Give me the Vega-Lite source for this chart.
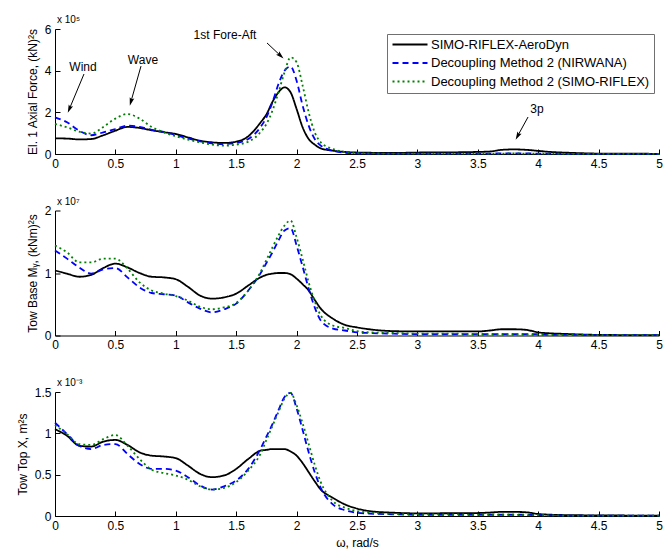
{
  "$schema": "https://vega.github.io/schema/vega-lite/v6.json",
  "background": "white",
  "padding": {"left": 16, "top": 14, "right": 2, "bottom": 2},
  "config": {
    "font": "Liberation Sans",
    "view": {"stroke": null},
    "axis": {"grid": false, "domainColor": "black", "tickColor": "black", "labelColor": "black", "labelFontSize": 12, "titleFontSize": 12, "titleFontWeight": "normal", "titleColor": "black", "tickSize": -5, "labelPadding": 9, "titlePadding": 5, "labelFlush": false, "labelOverlap": false, "format": "~g"},
    "legend": {"title": null, "orient": "top-right", "offset": 5, "symbolType": "M-1,0H6", "symbolSize": 100, "symbolStrokeWidth": 2, "labelFontSize": 13, "labelColor": "black", "labelLimit": 400, "labelOffset": 27, "strokeColor": "#707070", "fillColor": "white", "padding": 4, "rowPadding": 4.5}
  },
  "datasets": {
    "top": [
      {"w":0,"a":0.75,"n":1.76,"r":1.44},
      {"w":0.1,"a":0.74,"n":1.52,"r":1.28},
      {"w":0.2,"a":0.7,"n":1.12,"r":1.07},
      {"w":0.3,"a":0.72,"n":0.9,"r":0.98},
      {"w":0.4,"a":0.9,"n":1.04,"r":1.3},
      {"w":0.5,"a":1.12,"n":1.2,"r":1.7},
      {"w":0.6,"a":1.3,"n":1.36,"r":1.92},
      {"w":0.7,"a":1.25,"n":1.3,"r":1.7},
      {"w":0.8,"a":1.14,"n":1.16,"r":1.3},
      {"w":0.9,"a":1.05,"n":1.06,"r":1.04},
      {"w":1.0,"a":0.96,"n":0.91,"r":0.85},
      {"w":1.1,"a":0.8,"n":0.75,"r":0.69},
      {"w":1.2,"a":0.64,"n":0.61,"r":0.56},
      {"w":1.3,"a":0.56,"n":0.51,"r":0.45},
      {"w":1.4,"a":0.53,"n":0.48,"r":0.4},
      {"w":1.5,"a":0.59,"n":0.53,"r":0.45},
      {"w":1.6,"a":0.85,"n":0.72,"r":0.59},
      {"w":1.7,"a":1.5,"n":1.28,"r":1.04},
      {"w":1.75,"a":1.9,"n":1.76,"r":1.44},
      {"w":1.8,"a":2.5,"n":2.48,"r":2.08},
      {"w":1.85,"a":2.96,"n":3.36,"r":2.96},
      {"w":1.9,"a":3.2,"n":4.0,"r":3.92},
      {"w":1.95,"a":2.96,"n":4.2,"r":4.64},
      {"w":2.0,"a":2.16,"n":3.52,"r":4.4},
      {"w":2.05,"a":1.28,"n":2.32,"r":3.28},
      {"w":2.1,"a":0.72,"n":1.36,"r":2.0},
      {"w":2.15,"a":0.45,"n":0.72,"r":1.04},
      {"w":2.2,"a":0.27,"n":0.4,"r":0.56},
      {"w":2.3,"a":0.16,"n":0.16,"r":0.24},
      {"w":2.4,"a":0.1,"n":0.06,"r":0.1},
      {"w":2.5,"a":0.07,"n":0.03,"r":0.04},
      {"w":2.6,"a":0.06,"n":0.02,"r":0.03},
      {"w":2.8,"a":0.05,"n":0.02,"r":0.02},
      {"w":3.0,"a":0.07,"n":0.02,"r":0.02},
      {"w":3.3,"a":0.08,"n":0.02,"r":0.02},
      {"w":3.5,"a":0.1,"n":0.02,"r":0.02},
      {"w":3.6,"a":0.12,"n":0.02,"r":0.02},
      {"w":3.7,"a":0.2,"n":0.03,"r":0.02},
      {"w":3.8,"a":0.22,"n":0.03,"r":0.03},
      {"w":3.9,"a":0.2,"n":0.03,"r":0.02},
      {"w":4.0,"a":0.15,"n":0.02,"r":0.02},
      {"w":4.1,"a":0.1,"n":0.02,"r":0.02},
      {"w":4.2,"a":0.07,"n":0.01,"r":0.01},
      {"w":4.3,"a":0.05,"n":0.01,"r":0.01},
      {"w":4.5,"a":0.02,"n":0.01,"r":0.01},
      {"w":5.0,"a":0.01,"n":0.01,"r":0.01}
    ],
    "mid": [
      {"w":0,"a":1.04,"n":1.36,"r":1.44},
      {"w":0.1,"a":0.99,"n":1.23,"r":1.33},
      {"w":0.2,"a":0.94,"n":1.09,"r":1.17},
      {"w":0.3,"a":0.97,"n":0.99,"r":1.17},
      {"w":0.4,"a":1.08,"n":1.06,"r":1.23},
      {"w":0.5,"a":1.15,"n":1.08,"r":1.23},
      {"w":0.6,"a":1.09,"n":0.93,"r":1.07},
      {"w":0.7,"a":1.0,"n":0.77,"r":0.85},
      {"w":0.8,"a":0.94,"n":0.68,"r":0.72},
      {"w":0.9,"a":0.93,"n":0.66,"r":0.67},
      {"w":1.0,"a":0.9,"n":0.64,"r":0.63},
      {"w":1.1,"a":0.78,"n":0.53,"r":0.56},
      {"w":1.2,"a":0.64,"n":0.43,"r":0.46},
      {"w":1.3,"a":0.59,"n":0.37,"r":0.42},
      {"w":1.4,"a":0.61,"n":0.42,"r":0.45},
      {"w":1.5,"a":0.67,"n":0.51,"r":0.52},
      {"w":1.6,"a":0.8,"n":0.72,"r":0.72},
      {"w":1.7,"a":0.93,"n":0.99,"r":1.01},
      {"w":1.75,"a":0.97,"n":1.16,"r":1.21},
      {"w":1.8,"a":0.99,"n":1.33,"r":1.41},
      {"w":1.85,"a":1.0,"n":1.52,"r":1.6},
      {"w":1.9,"a":1.0,"n":1.68,"r":1.76},
      {"w":1.95,"a":0.98,"n":1.72,"r":1.84},
      {"w":2.0,"a":0.91,"n":1.44,"r":1.57},
      {"w":2.05,"a":0.82,"n":1.1,"r":1.22},
      {"w":2.1,"a":0.72,"n":0.75,"r":0.85},
      {"w":2.15,"a":0.57,"n":0.45,"r":0.55},
      {"w":2.2,"a":0.43,"n":0.24,"r":0.32},
      {"w":2.3,"a":0.27,"n":0.11,"r":0.16},
      {"w":2.4,"a":0.17,"n":0.08,"r":0.12},
      {"w":2.5,"a":0.13,"n":0.05,"r":0.07},
      {"w":2.6,"a":0.1,"n":0.04,"r":0.05},
      {"w":2.8,"a":0.07,"n":0.03,"r":0.04},
      {"w":3.0,"a":0.065,"n":0.02,"r":0.03},
      {"w":3.3,"a":0.065,"n":0.02,"r":0.03},
      {"w":3.5,"a":0.065,"n":0.02,"r":0.02},
      {"w":3.6,"a":0.08,"n":0.02,"r":0.02},
      {"w":3.7,"a":0.1,"n":0.02,"r":0.02},
      {"w":3.8,"a":0.1,"n":0.02,"r":0.02},
      {"w":3.9,"a":0.09,"n":0.02,"r":0.02},
      {"w":4.0,"a":0.05,"n":0.02,"r":0.01},
      {"w":4.1,"a":0.035,"n":0.01,"r":0.01},
      {"w":4.2,"a":0.027,"n":0.01,"r":0.01},
      {"w":4.3,"a":0.02,"n":0.01,"r":0.01},
      {"w":4.5,"a":0.01,"n":0.005,"r":0.005},
      {"w":5.0,"a":0.005,"n":0.005,"r":0.005}
    ],
    "bot": [
      {"w":0,"a":1.05,"n":1.13,"r":1.1},
      {"w":0.1,"a":0.97,"n":0.99,"r":0.99},
      {"w":0.2,"a":0.85,"n":0.85,"r":0.87},
      {"w":0.3,"a":0.84,"n":0.81,"r":0.86},
      {"w":0.4,"a":0.9,"n":0.86,"r":0.93},
      {"w":0.5,"a":0.92,"n":0.87,"r":0.98},
      {"w":0.6,"a":0.86,"n":0.75,"r":0.85},
      {"w":0.7,"a":0.77,"n":0.63,"r":0.69},
      {"w":0.8,"a":0.73,"n":0.57,"r":0.56},
      {"w":0.9,"a":0.72,"n":0.57,"r":0.52},
      {"w":1.0,"a":0.7,"n":0.55,"r":0.49},
      {"w":1.1,"a":0.61,"n":0.47,"r":0.44},
      {"w":1.2,"a":0.51,"n":0.37,"r":0.36},
      {"w":1.3,"a":0.47,"n":0.32,"r":0.32},
      {"w":1.4,"a":0.49,"n":0.36,"r":0.34},
      {"w":1.5,"a":0.57,"n":0.43,"r":0.41},
      {"w":1.6,"a":0.69,"n":0.57,"r":0.55},
      {"w":1.7,"a":0.79,"n":0.81,"r":0.75},
      {"w":1.75,"a":0.8,"n":0.96,"r":0.92},
      {"w":1.8,"a":0.81,"n":1.11,"r":1.09},
      {"w":1.85,"a":0.81,"n":1.28,"r":1.26},
      {"w":1.9,"a":0.81,"n":1.44,"r":1.42},
      {"w":1.95,"a":0.78,"n":1.49,"r":1.49},
      {"w":2.0,"a":0.73,"n":1.3,"r":1.34},
      {"w":2.05,"a":0.64,"n":1.04,"r":1.12},
      {"w":2.1,"a":0.53,"n":0.77,"r":0.87},
      {"w":2.15,"a":0.42,"n":0.53,"r":0.62},
      {"w":2.2,"a":0.32,"n":0.34,"r":0.41},
      {"w":2.3,"a":0.22,"n":0.14,"r":0.18},
      {"w":2.4,"a":0.14,"n":0.07,"r":0.1},
      {"w":2.5,"a":0.09,"n":0.04,"r":0.06},
      {"w":2.6,"a":0.06,"n":0.03,"r":0.04},
      {"w":2.8,"a":0.04,"n":0.02,"r":0.025},
      {"w":3.0,"a":0.032,"n":0.015,"r":0.02},
      {"w":3.3,"a":0.034,"n":0.015,"r":0.02},
      {"w":3.5,"a":0.036,"n":0.015,"r":0.015},
      {"w":3.6,"a":0.042,"n":0.015,"r":0.015},
      {"w":3.7,"a":0.05,"n":0.015,"r":0.015},
      {"w":3.8,"a":0.05,"n":0.015,"r":0.015},
      {"w":3.9,"a":0.045,"n":0.015,"r":0.012},
      {"w":4.0,"a":0.024,"n":0.01,"r":0.01},
      {"w":4.1,"a":0.016,"n":0.008,"r":0.008},
      {"w":4.2,"a":0.012,"n":0.006,"r":0.006},
      {"w":4.3,"a":0.01,"n":0.005,"r":0.005},
      {"w":4.5,"a":0.007,"n":0.005,"r":0.005},
      {"w":5.0,"a":0.005,"n":0.005,"r":0.005}
    ]
  },
  "bounds": "flush",
  "spacing": 56.5,
  "resolve": {"scale": {"color": "independent", "strokeDash": "independent"}, "legend": {"color": "independent", "strokeDash": "independent"}},
  "vconcat": [
    {
      "width": 604, "height": 125,
      "layer": [
        {
          "data": {"name": "top"},
          "transform": [{"fold": ["a", "n", "r"], "as": ["s", "v"]}],
          "mark": {"type": "line", "interpolate": "monotone", "strokeWidth": 1.8},
          "encoding": {
            "x": {"field": "w", "type": "quantitative", "scale": {"domain": [0, 5], "nice": false}, "axis": {"values": [0, 0.5, 1, 1.5, 2, 2.5, 3, 3.5, 4, 4.5, 5], "title": null}},
            "y": {"field": "v", "type": "quantitative", "scale": {"domain": [0, 6], "nice": false}, "axis": {"values": [0, 2, 4, 6], "title": "El. 1 Axial Force, (kN)²s"}},
            "color": {"field": "s", "type": "nominal", "scale": {"domain": ["a", "n", "r"], "range": ["#000000", "#0000ff", "#008000"]}, "legend": {"labelExpr": "datum.label == 'a' ? 'SIMO-RIFLEX-AeroDyn' : datum.label == 'n' ? 'Decoupling Method 2 (NIRWANA)' : 'Decoupling Method 2 (SIMO-RIFLEX)'"}},
            "strokeDash": {"field": "s", "type": "nominal", "scale": {"domain": ["a", "n", "r"], "range": [[1, 0], [6, 4], [2, 3]]}, "legend": {"labelExpr": "datum.label == 'a' ? 'SIMO-RIFLEX-AeroDyn' : datum.label == 'n' ? 'Decoupling Method 2 (NIRWANA)' : 'Decoupling Method 2 (SIMO-RIFLEX)'"}}
          }
        },
        {
          "data": {"values": [{}]},
          "mark": {"type": "text", "align": "left", "baseline": "alphabetic", "dx": 2, "fontSize": 10, "color": "black"},
          "encoding": {"x": {"datum": 0}, "y": {"datum": 6.288}, "text": {"value": "x 10⁵"}}
        },
        {
          "data": {"values": [{"t": "Wind", "x": 0.232, "y": 4.18}, {"t": "Wave", "x": 0.728, "y": 4.51}, {"t": "1st Fore-Aft", "x": 1.407, "y": 5.71}, {"t": "3p", "x": 3.99, "y": 2.16}]},
          "mark": {"type": "text", "align": "center", "baseline": "middle", "fontSize": 12, "color": "black"},
          "encoding": {"x": {"field": "x", "type": "quantitative"}, "y": {"field": "y", "type": "quantitative"}, "text": {"field": "t"}}
        },
        {
          "data": {"values": [{"x": 0.24, "y": 3.84, "x2": 0.121, "y2": 2.19}, {"x": 0.712, "y": 4.22, "x2": 0.63, "y2": 2.54}, {"x": 1.755, "y": 5.33, "x2": 1.863, "y2": 4.74}, {"x": 3.916, "y": 1.776, "x2": 3.832, "y2": 0.888}]},
          "mark": {"type": "rule", "color": "black", "strokeWidth": 1},
          "encoding": {"x": {"field": "x", "type": "quantitative"}, "y": {"field": "y", "type": "quantitative"}, "x2": {"field": "x2"}, "y2": {"field": "y2"}}
        },
        {
          "data": {"values": [{}]},
          "mark": {"type": "point", "shape": "M0,-1L0.5,0.7L0,0.4L-0.5,0.7Z", "filled": true, "opacity": 1, "size": 90, "color": "black", "angle": 202.8},
          "encoding": {"x": {"datum": 0.121}, "y": {"datum": 2.19}}
        },
        {
          "data": {"values": [{}]},
          "mark": {"type": "point", "shape": "M0,-1L0.5,0.7L0,0.4L-0.5,0.7Z", "filled": true, "opacity": 1, "size": 90, "color": "black", "angle": 195.7},
          "encoding": {"x": {"datum": 0.63}, "y": {"datum": 2.54}}
        },
        {
          "data": {"values": [{}]},
          "mark": {"type": "point", "shape": "M0,-1L0.5,0.7L0,0.4L-0.5,0.7Z", "filled": true, "opacity": 1, "size": 90, "color": "black", "angle": 133.2},
          "encoding": {"x": {"datum": 1.863}, "y": {"datum": 4.74}}
        },
        {
          "data": {"values": [{}]},
          "mark": {"type": "point", "shape": "M0,-1L0.5,0.7L0,0.4L-0.5,0.7Z", "filled": true, "opacity": 1, "size": 90, "color": "black", "angle": 208.6},
          "encoding": {"x": {"datum": 3.832}, "y": {"datum": 0.888}}
        }
      ]
    },
    {
      "width": 604, "height": 125,
      "layer": [
        {
          "data": {"name": "mid"},
          "transform": [{"fold": ["a", "n", "r"], "as": ["s", "v"]}],
          "mark": {"type": "line", "interpolate": "monotone", "strokeWidth": 1.8},
          "encoding": {
            "x": {"field": "w", "type": "quantitative", "scale": {"domain": [0, 5], "nice": false}, "axis": {"values": [0, 0.5, 1, 1.5, 2, 2.5, 3, 3.5, 4, 4.5, 5], "title": null}},
            "y": {"field": "v", "type": "quantitative", "scale": {"domain": [0, 2], "nice": false}, "axis": {"values": [0, 0.5, 1, 1.5, 2], "title": "Tow Base Mᵧ, (kNm)²s"}},
            "color": {"field": "s", "type": "nominal", "scale": {"domain": ["a", "n", "r"], "range": ["#000000", "#0000ff", "#008000"]}, "legend": null},
            "strokeDash": {"field": "s", "type": "nominal", "scale": {"domain": ["a", "n", "r"], "range": [[1, 0], [6, 4], [2, 3]]}, "legend": null}
          }
        },
        {
          "data": {"values": [{}]},
          "mark": {"type": "text", "align": "left", "baseline": "alphabetic", "dx": 2, "fontSize": 10, "color": "black"},
          "encoding": {"x": {"datum": 0}, "y": {"datum": 2.096}, "text": {"value": "x 10⁷"}}
        }
      ]
    },
    {
      "width": 604, "height": 124,
      "layer": [
        {
          "data": {"name": "bot"},
          "transform": [{"fold": ["a", "n", "r"], "as": ["s", "v"]}],
          "mark": {"type": "line", "interpolate": "monotone", "strokeWidth": 1.8},
          "encoding": {
            "x": {"field": "w", "type": "quantitative", "scale": {"domain": [0, 5], "nice": false}, "axis": {"values": [0, 0.5, 1, 1.5, 2, 2.5, 3, 3.5, 4, 4.5, 5], "title": "ω, rad/s", "titlePadding": 6}},
            "y": {"field": "v", "type": "quantitative", "scale": {"domain": [0, 1.5], "nice": false}, "axis": {"values": [0, 0.5, 1, 1.5], "title": "Tow Top X, m²s"}},
            "color": {"field": "s", "type": "nominal", "scale": {"domain": ["a", "n", "r"], "range": ["#000000", "#0000ff", "#008000"]}, "legend": null},
            "strokeDash": {"field": "s", "type": "nominal", "scale": {"domain": ["a", "n", "r"], "range": [[1, 0], [6, 4], [2, 3]]}, "legend": null}
          }
        },
        {
          "data": {"values": [{}]},
          "mark": {"type": "text", "align": "left", "baseline": "alphabetic", "dx": 2, "fontSize": 10, "color": "black"},
          "encoding": {"x": {"datum": 0}, "y": {"datum": 1.573}, "text": {"value": "x 10⁻³"}}
        }
      ]
    }
  ]
}
